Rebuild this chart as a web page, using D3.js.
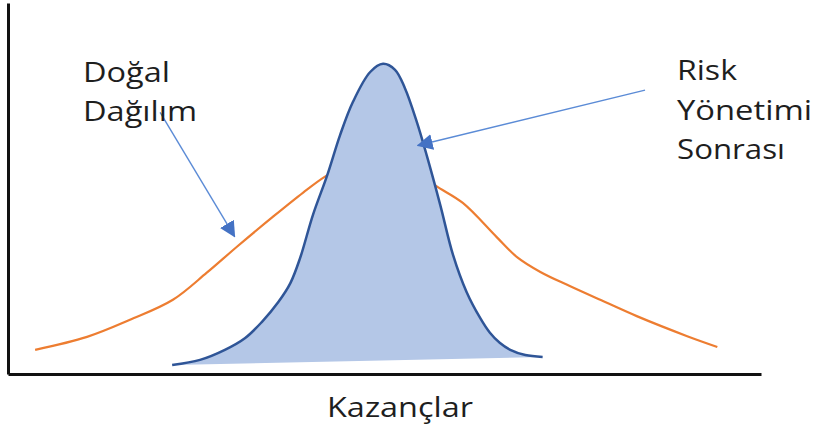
<!DOCTYPE html>
<html>
<head>
<meta charset="utf-8">
<script src="https://cdn.jsdelivr.net/npm/d3@7"></script>
<style>
    body { margin: 0; background: #fff; }
    .label { font-family: "Open Sans", sans-serif; font-size: 27px; fill: #1e1e1e; }
    .axis path { stroke: #111; stroke-width: 3; }
</style>
</head>
<body>
<script>
const WIDTH = 814
const HEIGHT = 430

// x: earnings (0-100), y: frequency (0-100)
const naturalX = [3.6, 10.5, 16.2, 21.9, 26.4, 30.4, 35.2, 39.2, 42.1, 45.4, 49.4, 53.4, 56.7, 60.4, 64.9, 67.6, 70.7, 74.6, 79.3, 83.5, 90.2, 94.2]
const naturalY = [6.5, 10.0, 14.6, 20.0, 27.3, 34.3, 42.4, 48.9, 53.2, 56.8, 58.4, 56.2, 50.9, 46.1, 36.9, 31.5, 27.5, 23.7, 19.4, 15.6, 10.2, 7.3]

const riskX = [21.8, 25.5, 28.8, 31.5, 33.7, 35.9, 37.5, 38.8, 40.5, 42.4, 44.1, 45.8, 48.1, 49.8, 51.4, 52.7, 54.3, 55.6, 57.4, 59.1, 60.9, 62.7, 64.0, 65.3, 66.7, 68.7, 71.0]
const riskY = [2.4, 3.8, 6.5, 9.7, 14.0, 19.4, 24.5, 31.3, 42.9, 53.6, 64.4, 73.3, 81.4, 83.6, 82.0, 77.1, 67.9, 59.0, 45.6, 32.1, 22.1, 15.1, 11.1, 8.4, 6.5, 5.1, 4.6]

// arrows: [fromX, fromY, toX, toY]
const arrowNatural = [20.2, 70.5, 30.1, 37.0]
const arrowRisk = [84.6, 76.5, 54.4, 61.6]

const naturalLines = ["Doğal", "Dağılım"]
const riskLines = ["Risk", "Yönetimi", "Sonrası"]
const xTitle = "Kazançlar"

const natural = naturalX.map((x, i) => [x, naturalY[i]])
const risk = riskX.map((x, i) => [x, riskY[i]])

const svg = d3.select("body")
    .append("svg")
    .attr("width", WIDTH)
    .attr("height", HEIGHT)

const xScale = d3.scaleLinear().domain([0, 100]).range([8, 761])
const yScale = d3.scaleLinear().domain([0, 100]).range([374, 3])

const defs = svg.append("defs")
defs.append("marker")
    .attr("id", "head")
    .attr("viewBox", "0 0 16 16")
    .attr("refX", 15)
    .attr("refY", 8)
    .attr("markerWidth", 16)
    .attr("markerHeight", 16)
    .attr("markerUnits", "userSpaceOnUse")
    .attr("orient", "auto")
    .append("path")
    .attr("d", "M0,0 L16,8 L0,16 Z")
    .attr("fill", "#4472C4")

const line = d3.line()
    .x(d => xScale(d[0]))
    .y(d => yScale(d[1]))
    .curve(d3.curveCatmullRom.alpha(0.5))

svg.append("path")
    .attr("d", line(natural))
    .attr("fill", "none")
    .attr("stroke", "#ED7D31")
    .attr("stroke-width", 2.2)

svg.append("path")
    .attr("d", line(risk) + "Z")
    .attr("fill", "#B4C7E7")

svg.append("path")
    .attr("d", line(risk))
    .attr("fill", "none")
    .attr("stroke", "#2F5597")
    .attr("stroke-width", 2.5)

svg.append("g")
    .attr("class", "axis")
    .attr("transform", "translate(0, " + yScale(0) + ")")
    .call(d3.axisBottom(xScale).ticks(0).tickSizeOuter(0))

svg.append("g")
    .attr("class", "axis")
    .attr("transform", "translate(" + xScale(0) + ", 0)")
    .call(d3.axisLeft(yScale).ticks(0).tickSizeOuter(0))

for (const a of [arrowNatural, arrowRisk]) {
    svg.append("line")
        .attr("x1", xScale(a[0]))
        .attr("y1", yScale(a[1]))
        .attr("x2", xScale(a[2]))
        .attr("y2", yScale(a[3]))
        .attr("stroke", "#5B8BD6")
        .attr("stroke-width", 1.4)
        .attr("marker-end", "url(#head)")
}

// labels, stretched a bit wider like the original
const naturalWidths = [87, 114]
naturalLines.forEach((t, i) => {
    svg.append("text")
        .attr("class", "label")
        .attr("x", 83)
        .attr("y", 82 + i * 39)
        .attr("textLength", naturalWidths[i])
        .attr("lengthAdjust", "spacingAndGlyphs")
        .text(t)
})

const riskWidths = [60, 135, 108]
riskLines.forEach((t, i) => {
    svg.append("text")
        .attr("class", "label")
        .attr("x", 677)
        .attr("y", 80 + i * 39.5)
        .attr("textLength", riskWidths[i])
        .attr("lengthAdjust", "spacingAndGlyphs")
        .text(t)
})

svg.append("text")
    .attr("class", "label")
    .attr("x", 327)
    .attr("y", 417)
    .attr("textLength", 146)
    .attr("lengthAdjust", "spacingAndGlyphs")
    .text(xTitle)
</script>
</body>
</html>
